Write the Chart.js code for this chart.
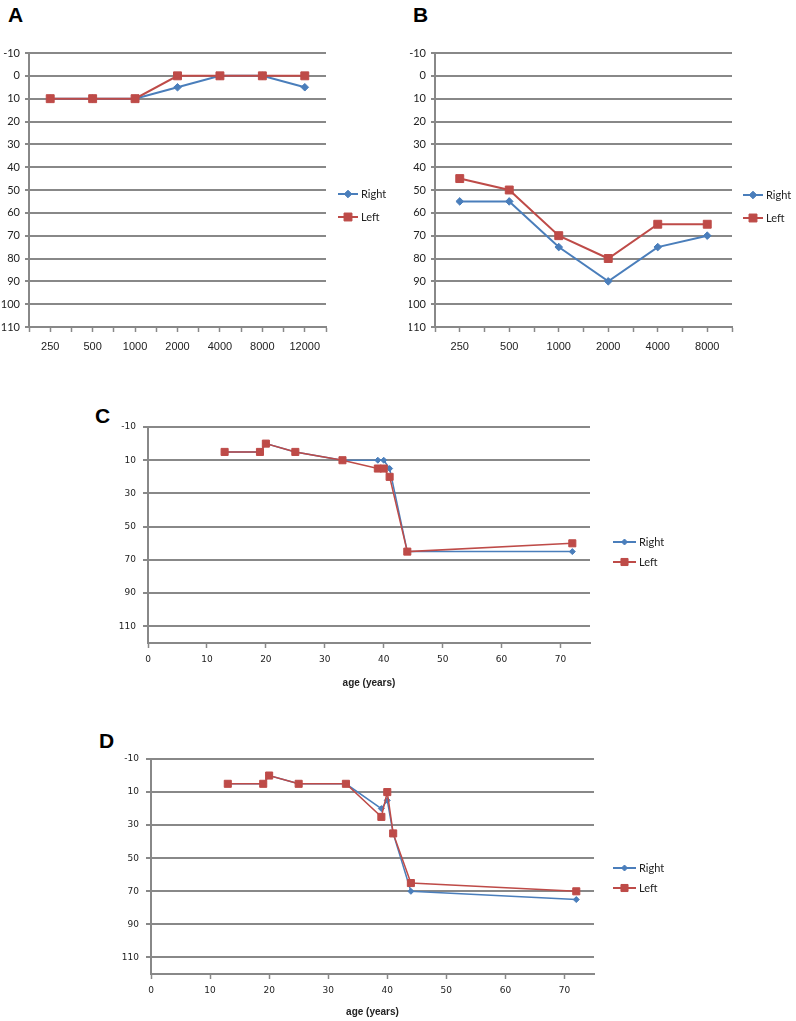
<!DOCTYPE html>
<html>
<head>
<meta charset="utf-8">
<script src="https://cdn.jsdelivr.net/npm/chart.js@4"></script>
<style>
  body { margin: 0; background: #fff; width: 796px; height: 1021px; position: relative; overflow: hidden; }
  canvas { position: absolute; }
  .tag { position: absolute; font: bold 21px "Liberation Sans", Arial, sans-serif; line-height: 21px; color: #000; }
</style>
</head>
<body>
<div class="tag" style="left:8px;top:4px">A</div>
<div class="tag" style="left:413px;top:4px">B</div>
<div class="tag" style="left:95px;top:405px">C</div>
<div class="tag" style="left:99px;top:730px">D</div>

<canvas id="chartA" width="396" height="330" style="left:0;top:40px"></canvas>
<canvas id="chartB" width="387" height="330" style="left:409px;top:40px"></canvas>
<canvas id="chartC" width="620" height="289" style="left:90px;top:400px"></canvas>
<canvas id="chartD" width="620" height="288" style="left:90px;top:730px"></canvas>

<script>
// series names
const seriesNames = ["Right", "Left"];

// A: frequency (Hz) vs threshold
const freqA = ["250", "500", "1000", "2000", "4000", "8000", "12000"];
const rightA = [10, 10, 10, 5, 0, 0, 5];
const leftA = [10, 10, 10, 0, 0, 0, 0];

// B
const freqB = ["250", "500", "1000", "2000", "4000", "8000"];
const rightB = [55, 55, 75, 90, 75, 70];
const leftB = [45, 50, 70, 80, 65, 65];

// C and D: age (years) vs threshold
const ages = [13, 19, 20, 25, 33, 39, 40, 41, 44, 72];
const rightC = [5, 5, 0, 5, 10, 10, 10, 15, 65, 65];
const leftC = [5, 5, 0, 5, 10, 15, 15, 20, 65, 60];
const rightD = [5, 5, 0, 5, 5, 20, 15, 35, 70, 75];
const leftD = [5, 5, 0, 5, 5, 25, 10, 35, 65, 70];

// tick labels
const yTicksAB = [-10, 0, 10, 20, 30, 40, 50, 60, 70, 80, 90, 100, 110];
const yTicksCD = [-10, 10, 30, 50, 70, 90, 110];
const xTicksCD = [0, 10, 20, 30, 40, 50, 60, 70];

const BLUE = "#4a7ebb";
const RED = "#be4b48";
const GRAY = "#888888";
const TXT = "#222";

// legend drawn at the right side of the plot
const sideLegend = {
    id: "sideLegend",
    afterDraw(chart, args, opts) {
        const { ctx, chartArea } = chart;
        ctx.save();
        chart.data.datasets.forEach((ds, i) => {
            const x0 = chartArea.right + opts.dx;
            const y = chartArea.top + opts.dy[i];
            ctx.strokeStyle = ds.borderColor;
            ctx.lineWidth = opts.lineWidth;
            ctx.beginPath();
            ctx.moveTo(x0, y);
            ctx.lineTo(x0 + opts.len, y);
            ctx.stroke();
            ctx.fillStyle = ds.pointBackgroundColor;
            ctx.lineWidth = 1;
            Chart.helpers.drawPoint(ctx, {
                pointStyle: ds.pointStyle, radius: ds.pointRadius,
                borderWidth: 1, rotation: 0
            }, x0 + opts.len / 2, y);
            ctx.fillStyle = TXT;
            ctx.font = opts.font;
            ctx.textBaseline = "middle";
            ctx.textAlign = "left";
            ctx.fillText(ds.label, x0 + opts.len + 3, y);
        });
        ctx.restore();
    }
};

function toPoints(xs, ys) {
    return ys.map((v, i) => ({ x: xs[i], y: v }));
}

function makeChart(id, p) {
    return new Chart(document.getElementById(id), {
        type: "line",
        data: {
            datasets: [
                {
                    label: seriesNames[0], data: p.right,
                    borderColor: BLUE, backgroundColor: BLUE, pointBackgroundColor: BLUE, pointBorderColor: BLUE,
                    pointStyle: "rectRot", pointRadius: p.rightR, pointBorderWidth: 1,
                    borderWidth: p.lw, tension: 0, order: 2
                },
                {
                    label: seriesNames[1], data: p.left,
                    borderColor: RED, backgroundColor: RED, pointBackgroundColor: RED, pointBorderColor: RED,
                    pointStyle: "rect", pointRadius: p.leftR, pointBorderWidth: 1,
                    borderWidth: p.lw, tension: 0, order: 1
                }
            ]
        },
        options: {
            responsive: false,
            animation: false,
            layout: { padding: { top: p.padTop, right: p.padRight, left: 0, bottom: 0 } },
            plugins: {
                legend: { display: false },
                tooltip: { enabled: false },
                sideLegend: p.legend
            },
            scales: {
                x: {
                    type: "linear",
                    min: p.xMin, max: p.xMax,
                    afterBuildTicks: s => { s.ticks = p.xTicks.map(v => ({ value: v })); },
                    afterFit: s => { s.height = p.xh; },
                    ticks: {
                        autoSkip: false, maxRotation: 0,
                        padding: p.xPad, color: TXT, font: p.xFont,
                        callback: p.xLabel
                    },
                    grid: { drawOnChartArea: false, color: GRAY, tickLength: 5, tickWidth: 1.5 },
                    border: { color: GRAY, width: 2 },
                    title: p.xTitle ? {
                        display: true, text: p.xTitle, color: TXT,
                        font: { family: "Liberation Sans", size: 10, weight: "bold" },
                        padding: 0
                    } : { display: false }
                },
                y: {
                    type: "linear", reverse: true,
                    min: p.yMin, max: p.yMax,
                    afterBuildTicks: s => { s.ticks = p.yTicks.map(v => ({ value: v })); },
                    afterFit: s => { s.width = p.yw; },
                    ticks: { padding: p.yPad, color: TXT, font: p.yFont },
                    grid: { color: GRAY, lineWidth: 2, tickLength: p.yTick },
                    border: { color: GRAY, width: 2 }
                }
            }
        },
        plugins: [sideLegend]
    });
}

const idx = arr => arr.map((_, i) => i);
const halfSteps = n => Array.from({ length: 2 * n + 1 }, (_, k) => -0.5 + k * 0.5);
const catLabel = labels => v => Number.isInteger(v) ? labels[v] : "";

const fontAB_y = { family: "Lato", size: 11 };
const fontAB_x = { family: "Liberation Sans", size: 11 };
const fontCD = { family: "DejaVu Sans", size: 9 };

window.onload = () => {
    makeChart("chartA", {
        right: toPoints(idx(freqA), rightA), left: toPoints(idx(freqA), leftA),
        rightR: 3.8, leftR: 5.6, lw: 2,
        padTop: 13, padRight: 70, yw: 29, xh: 43,
        xMin: -0.5, xMax: freqA.length - 0.5, xTicks: halfSteps(freqA.length), xLabel: catLabel(freqA),
        xPad: 8, xFont: fontAB_x,
        yMin: -10, yMax: 110, yTicks: yTicksAB, yPad: 5, yTick: 4, yFont: fontAB_y,
        legend: { dx: 12, len: 20, dy: [141, 164], lineWidth: 2, font: "11px Lato" }
    });

    makeChart("chartB", {
        right: toPoints(idx(freqB), rightB), left: toPoints(idx(freqB), leftB),
        rightR: 3.8, leftR: 5.6, lw: 2,
        padTop: 13, padRight: 64, yw: 26, xh: 43,
        xMin: -0.5, xMax: freqB.length - 0.5, xTicks: halfSteps(freqB.length), xLabel: catLabel(freqB),
        xPad: 8, xFont: fontAB_x,
        yMin: -10, yMax: 110, yTicks: yTicksAB, yPad: 5, yTick: 4, yFont: fontAB_y,
        legend: { dx: 11, len: 20, dy: [142, 165], lineWidth: 2, font: "11px Lato" }
    });

    makeChart("chartC", {
        right: toPoints(ages, rightC), left: toPoints(ages, leftC),
        rightR: 3, leftR: 5, lw: 1.5,
        padTop: 27, padRight: 120, yw: 58, xh: 46,
        xMin: 0, xMax: 75, xTicks: xTicksCD, xLabel: v => v,
        xPad: 6, xFont: fontCD, xTitle: "age (years)",
        yMin: -10, yMax: 120, yTicks: yTicksCD, yPad: 7, yTick: 5, yFont: fontCD,
        legend: { dx: 23, len: 23, dy: [115, 135], lineWidth: 2, font: "11px Lato" }
    });

    makeChart("chartD", {
        right: toPoints(ages, rightD), left: toPoints(ages, leftD),
        rightR: 3, leftR: 5, lw: 1.5,
        padTop: 29, padRight: 116, yw: 61, xh: 44,
        xMin: 0, xMax: 75, xTicks: xTicksCD, xLabel: v => v,
        xPad: 6, xFont: fontCD, xTitle: "age (years)",
        yMin: -10, yMax: 120, yTicks: yTicksCD, yPad: 7, yTick: 5, yFont: fontCD,
        legend: { dx: 19, len: 23, dy: [109, 129], lineWidth: 2, font: "11px Lato" }
    });
};
</script>
</body>
</html>
